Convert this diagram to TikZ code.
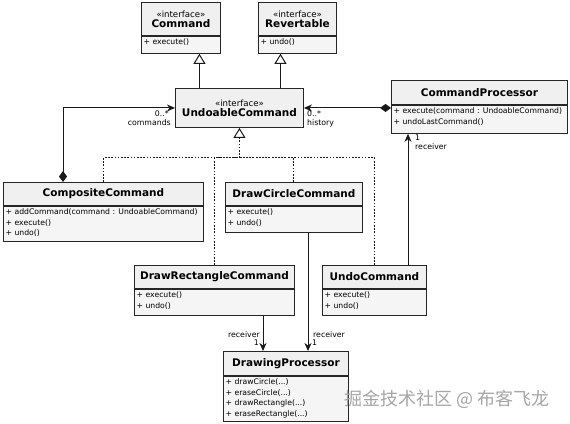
\documentclass[tikz,border=0pt]{standalone}
\usepackage{fontspec}
\setmainfont{DejaVu Sans}
\newfontfamily\cjkfont{Noto Sans CJK SC}
\usetikzlibrary{arrows.meta,calc}
\tikzset{
  boxline/.style={draw=black!85, line width=0.9pt},
  titlebox/.style={boxline, fill=black!6, inner sep=0pt, align=center, anchor=north west,
    font=\fontsize{10.5}{11.5}\selectfont\bfseries},
  bodybox/.style={boxline, fill=black!4, inner sep=0pt, anchor=north west},
  methods/.style={inner sep=0pt, anchor=north west, align=left, font=\fontsize{7.7}{10.5}\selectfont},
  conn/.style={line width=1pt, draw=black!90},
  inherit/.style={conn, -{Triangle[open, length=10pt, width=12pt, line width=1pt]}},
  realize/.style={conn, dash pattern=on 1.6pt off 1.6pt},
  nav/.style={conn, -{Stealth[length=8pt, width=7pt, inset=2.5pt]}},
  agg/.style={conn, {Diamond[length=11pt, width=8pt]}-{Stealth[length=8pt, width=7pt, inset=2.5pt]}},
  lbl/.style={inner sep=0pt, font=\fontsize{7.8}{8.5}\selectfont},
}
\newcommand\classbox[8]{%
  \node[titlebox, minimum width=#4pt, minimum height=#5pt] (#1) at (#2,#3) {#7};
  \node[bodybox, minimum width=#4pt, minimum height=#6pt] (#1-m) at (#1.south west) {};
  \node[methods] (#1-t) at ([xshift=2.5pt,yshift=-3pt]#1-m.north west) {#8};
}
\newcommand\ifacetitle[1]{{\mdseries\fontsize{8.6}{9.5}\selectfont «interface»}\\[-1.5pt]#1}
\begin{document}
\begin{tikzpicture}[x=1pt,y=-1pt]
  \fill[white] (0,0) rectangle (570,423);
  \useasboundingbox (0,0) rectangle (570,423);

  \classbox{cmd}{141}{2}{79}{33}{17}{\ifacetitle{Command}}{+ execute()}
  \classbox{rev}{258}{2}{78}{33}{17}{\ifacetitle{Revertable}}{+ undo()}
  \node[titlebox, minimum width=128pt, minimum height=39pt] (und) at (175,88) {\ifacetitle{UndoableCommand}};
  \classbox{cp}{391}{80}{176}{24}{28}{CommandProcessor}{+ execute(command : UndoableCommand)\\+ undoLastCommand()}
  \classbox{comp}{3}{182}{200}{23}{35}{CompositeCommand}{+ addCommand(command : UndoableCommand)\\+ execute()\\+ undo()}
  \classbox{dcc}{225}{182}{137}{23}{26}{DrawCircleCommand}{+ execute()\\+ undo()}
  \classbox{drc}{134}{265}{160}{23}{26}{DrawRectangleCommand}{+ execute()\\+ undo()}
  \classbox{uc}{322}{265}{104}{23}{26}{UndoCommand}{+ execute()\\+ undo()}
  \classbox{dp}{223}{351}{125}{24}{45}{DrawingProcessor}{+ drawCircle(...)\\+ eraseCircle(...)\\+ drawRectangle(...)\\+ eraseRectangle(...)}

  % generalisation
  \draw[inherit] ([xshift=-40pt]und.north) -- ([xshift=-40pt]und.north |- cmd-m.south);
  \draw[inherit] ([xshift=41pt]und.north) -- ([xshift=41pt]und.north |- rev-m.south);

  % realisation
  \coordinate (bus) at ([yshift=-30pt]und.south);
  \draw[realize] (comp.north) |- (bus);
  \draw[realize] (drc.north) |- (bus);
  \draw[realize] (dcc.north) |- (bus);
  \draw[realize] (uc.north) |- (bus);
  \draw[realize] (bus) -- ([yshift=-10pt]und.south);
  \draw[inherit] ([yshift=-11pt]und.south) -- (und.south);

  % associations
  \draw[agg] ([xshift=60pt]comp.north west) |- (und.west);
  \draw[agg] (und.east -| cp.west) -- (und.east);
  \draw[nav] ([xshift=86pt]uc.north west) -- ([xshift=86pt]uc.north west |- cp-m.south);
  \draw[nav] ([xshift=129pt]drc-m.south west) -- ([xshift=129pt]drc-m.south west |- dp.north);
  \draw[nav] ([xshift=83pt]dcc-m.south west) -- ([xshift=83pt]dcc-m.south west |- dp.north);

  % labels
  \node[lbl, anchor=east] (l1) at (169,114) {0..*};
  \node[lbl, anchor=east] (l2) at (171,123) {commands};
  \node[lbl, anchor=west] (l3) at (307,114) {0..*};
  \node[lbl, anchor=west] (l4) at (307,123) {history};
  \node[lbl, anchor=west] (l5) at (415,138) {1};
  \node[lbl, anchor=west] (l6) at (415,147) {receiver};
  \node[lbl, anchor=east] (l7) at (260,335) {receiver};
  \node[lbl, anchor=east] (l8) at (259,343) {1};
  \node[lbl, anchor=west] (l9) at (313,335) {receiver};
  \node[lbl, anchor=west] (l10) at (312,343) {1};

  \node[inner sep=0pt, text=black!35, font=\cjkfont\fontsize{18}{18}\selectfont] (wm) at (447,399) {掘金技术社区 @ 布客飞龙};
\end{tikzpicture}
\end{document}
